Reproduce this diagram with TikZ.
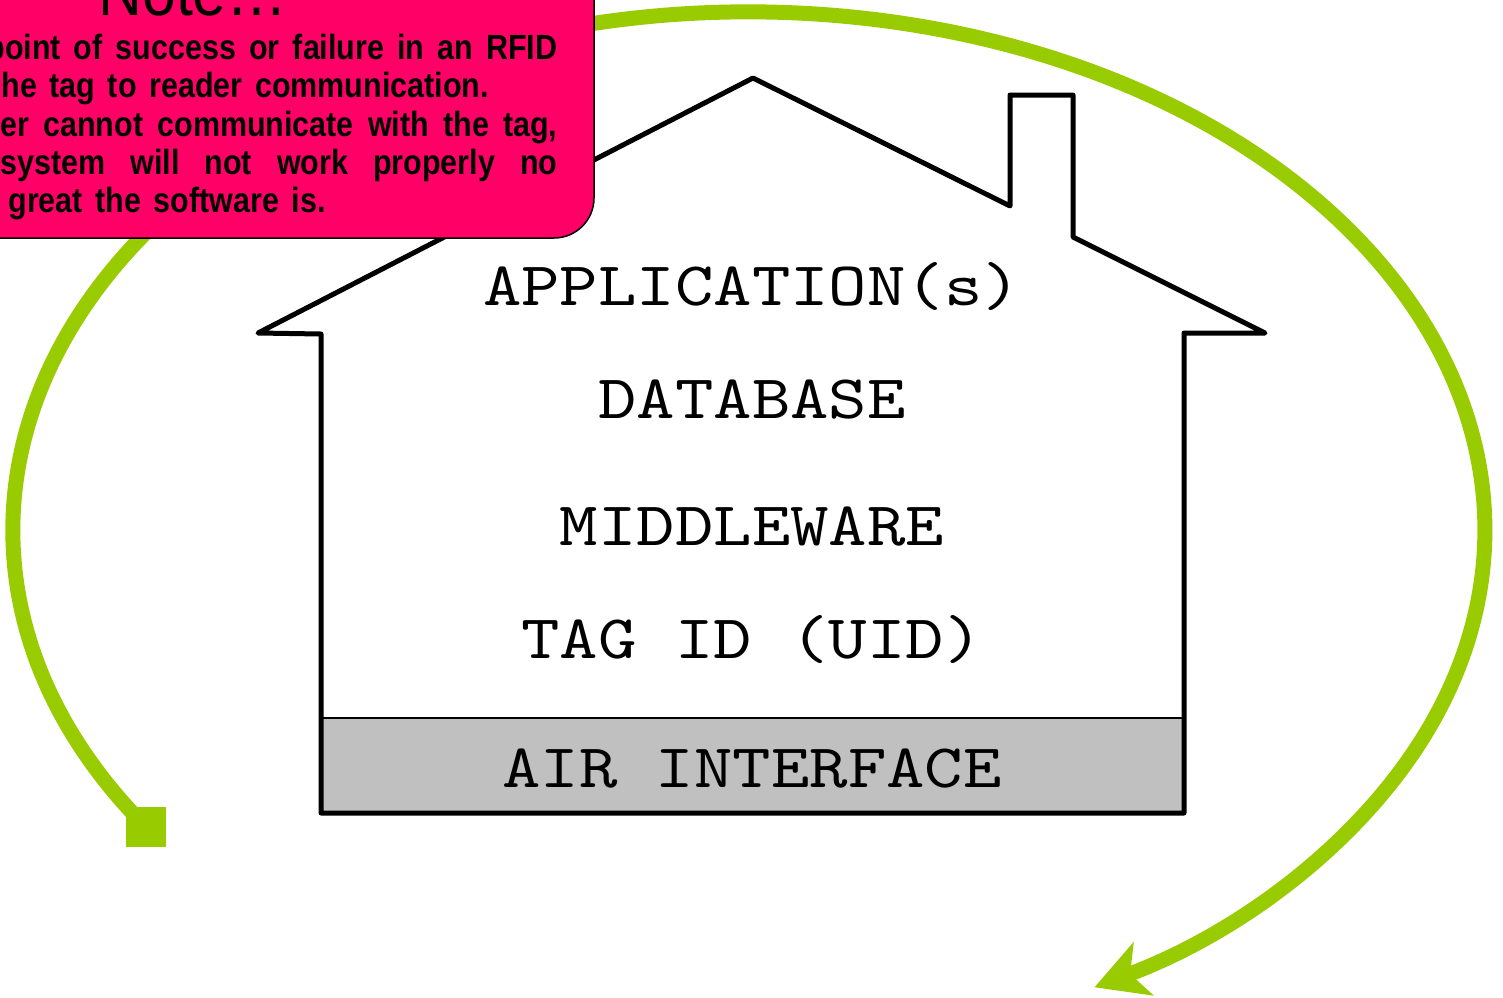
\documentclass[tikz,border=0pt]{standalone}
\usepackage{fontspec}
\usetikzlibrary{arrows.meta}
\newfontfamily\notefont[FakeStretch=0.87,WordSpace=1.5]{Liberation Sans}
\newfontfamily\layerfont[FakeStretch=1.18]{lmmono10-regular.otf}
\definecolor{leafgreen}{HTML}{99CC00}
\definecolor{notepink}{HTML}{FF0066}
\definecolor{airgray}{HTML}{C0C0C0}

\begin{document}
\begin{tikzpicture}[x=0.5pt,y=-0.5pt,
  layer/.style={anchor=base,inner sep=0pt,font=\layerfont\fontsize{31pt}{36pt}\selectfont},
  noteline/.style={anchor=base west,inner sep=0pt,font=\notefont\bfseries\fontsize{17.5pt}{19pt}\selectfont},
  cyclearrow/.style={leafgreen,line width=7.5pt,-{Stealth[length=26pt,width=28pt,inset=7pt]}},
  house/.style={line width=2.5pt,line join=round}]
  \useasboundingbox (0,0) rectangle (1503,997);
  % green cycle round the house
  \node[fill=leafgreen,minimum size=20pt,inner sep=0pt] (tail) at (146,827) {};
  \draw[cyclearrow] (tail.center) arc[start angle=-145,end angle=-422,x radius=368pt,y radius=259pt];
  % the house
  \fill[airgray] (321,718) rectangle (1184,813);
  \draw[line width=0.75pt] (321,718) -- (1184,718);
  \draw[house] (258,333) -- (753,78) -- (1010,206) -- (1010,95) -- (1073,95) -- (1073,237) -- (1265,333)
    -- (1184,333) -- (1184,813) -- (321,813) -- (321,334) -- cycle;
  \node[layer] (app) at (752,305) {APPLICATION(s)};
  \node[layer] (db) at (752,418) {DATABASE};
  \node[layer] (mid) at (752,545) {MIDDLEWARE};
  \node[layer] (uid) at (752,658) {TAG ID (UID)};
  \node[layer] (air) at (752,787) {AIR INTERFACE};
  % note box, cut by the page
  \draw[fill=notepink,line width=0.75pt,rounded corners=20pt] (-300,-300) rectangle (594,238);
  \node[anchor=base,inner sep=0pt,font=\notefont\fontsize{35pt}{40pt}\selectfont] (notetitle) at (193,15) {Note…};
  \node[noteline] (l1) at (-14,59) {\makebox[285.5pt][s]{point of success or failure in an RFID}};
  \node[noteline] (l2) at (1,97) {he tag to reader communication.};
  \node[noteline] (l3) at (0,136) {\makebox[278.5pt][s]{er cannot communicate with the tag,}};
  \node[noteline] (l4) at (0,174) {\makebox[278.5pt][s]{system will not work properly no}};
  \node[noteline] (l5) at (8,212) {great the software is.};
\end{tikzpicture}
\end{document}
